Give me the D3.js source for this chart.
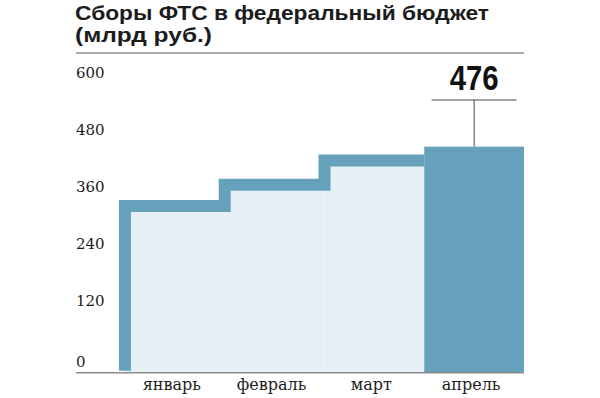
<!DOCTYPE html>
<html lang="ru">
<head>
    <meta charset="UTF-8">
    <title>Сборы ФТС в федеральный бюджет</title>
    <script src="https://cdnjs.cloudflare.com/ajax/libs/d3/7.8.5/d3.min.js"></script>
    <style>
        body {
            margin: 0;
            padding: 0;
            background-color: #ffffff;
        }
        .title {
            font-family: "Liberation Sans", Arial, sans-serif;
            font-weight: bold;
            font-size: 19.5px;
            fill: #1c1c1c;
        }
        .tick-label, .month-label {
            font-family: "DejaVu Serif", serif;
            font-size: 15px;
            fill: #1c1c1c;
        }
        .month-label {
            font-size: 16px;
        }
        .value-label {
            font-family: "Liberation Sans", Arial, sans-serif;
            font-weight: bold;
            font-size: 35px;
            fill: #111111;
        }
    </style>
</head>
<body>
    <div id="chart"></div>

    <script>
        // данные (млрд руб.)
        const months = ["январь", "февраль", "март", "апрель"];
        const values = [351, 396, 447, 476];
        const yTicks = [0, 120, 240, 360, 480, 600];
        const titleLines = ["Сборы ФТС в федеральный бюджет", "(млрд руб.)"];
        const highlightLabel = "476";

        const width = 600;
        const height = 398;

        const svg = d3.select("#chart")
            .append("svg")
            .attr("width", width)
            .attr("height", height);

        const x = d3.scaleBand()
            .domain(months)
            .range([125, 524])
            .padding(0);

        const y = d3.scaleLinear()
            .domain([0, 600])
            .range([372.7, 87.8]);

        const bw = x.bandwidth();
        const steel = "#65a1ba";
        const pale = "#e7eff6";

        // заголовок
        svg.append("g")
            .selectAll("text")
            .data(titleLines)
            .enter().append("text")
            .attr("class", "title")
            .attr("x", 75)
            .attr("y", (d, i) => 19.5 + i * 22)
            .attr("textLength", (d, i) => i === 0 ? 414 : 137)
            .attr("lengthAdjust", "spacingAndGlyphs")
            .text(d => d);

        svg.append("line")
            .attr("x1", 76).attr("x2", 524)
            .attr("y1", 53).attr("y2", 53)
            .attr("stroke", "#555")
            .attr("stroke-width", 1);

        // подписи оси Y
        svg.append("g")
            .selectAll("text")
            .data(yTicks)
            .enter().append("text")
            .attr("class", "tick-label")
            .attr("x", 76)
            .attr("y", d => y(d) - (d === 0 ? 6 : 10))
            .text(d => d);

        const past = months.slice(0, 3).map((m, i) => ({month: m, value: values[i]}));
        const last = {month: months[3], value: values[3]};

        // светлая заливка под ступенями
        svg.append("g")
            .selectAll("rect")
            .data(past)
            .enter().append("rect")
            .attr("x", d => x(d.month))
            .attr("y", d => y(d.value))
            .attr("width", bw)
            .attr("height", d => y(0) - y(d.value))
            .attr("fill", pale);

        // ступенчатая линия
        const step = d3.line()
            .x(d => d[0])
            .y(d => d[1]);
        const pts = [[x(past[0].month), y(0) - 2]];
        past.forEach(d => {
            pts.push([x(d.month), y(d.value)]);
            pts.push([x(d.month) + bw, y(d.value)]);
        });
        svg.append("path")
            .attr("d", step(pts))
            .attr("fill", "none")
            .attr("stroke", steel)
            .attr("stroke-width", 12)
            .attr("stroke-linejoin", "miter")
            .attr("stroke-linecap", "butt");

        // апрель
        svg.append("rect")
            .attr("x", x(last.month))
            .attr("y", y(last.value))
            .attr("width", bw)
            .attr("height", y(0) - y(last.value))
            .attr("fill", steel);

        // ось X
        svg.append("line")
            .attr("x1", 76).attr("x2", 524)
            .attr("y1", y(0)).attr("y2", y(0))
            .attr("stroke", "#8c8c8c")
            .attr("stroke-width", 1.6);

        svg.append("g")
            .selectAll("text")
            .data(months)
            .enter().append("text")
            .attr("class", "month-label")
            .attr("x", d => x(d) + bw / 2 - 3)
            .attr("y", 390)
            .attr("text-anchor", "middle")
            .text(d => d);

        // выноска со значением
        const cx = x(last.month) + bw / 2;
        svg.append("line")
            .attr("x1", cx - 42.5).attr("x2", cx + 42.5)
            .attr("y1", 100).attr("y2", 100)
            .attr("stroke", "#444")
            .attr("stroke-width", 1);
        svg.append("line")
            .attr("x1", cx).attr("x2", cx)
            .attr("y1", 100).attr("y2", y(last.value))
            .attr("stroke", "#444")
            .attr("stroke-width", 1);
        svg.append("text")
            .attr("class", "value-label")
            .attr("x", cx - 24.5)
            .attr("y", 90)
            .attr("textLength", 49)
            .attr("lengthAdjust", "spacingAndGlyphs")
            .text(highlightLabel);
    </script>
</body>
</html>
